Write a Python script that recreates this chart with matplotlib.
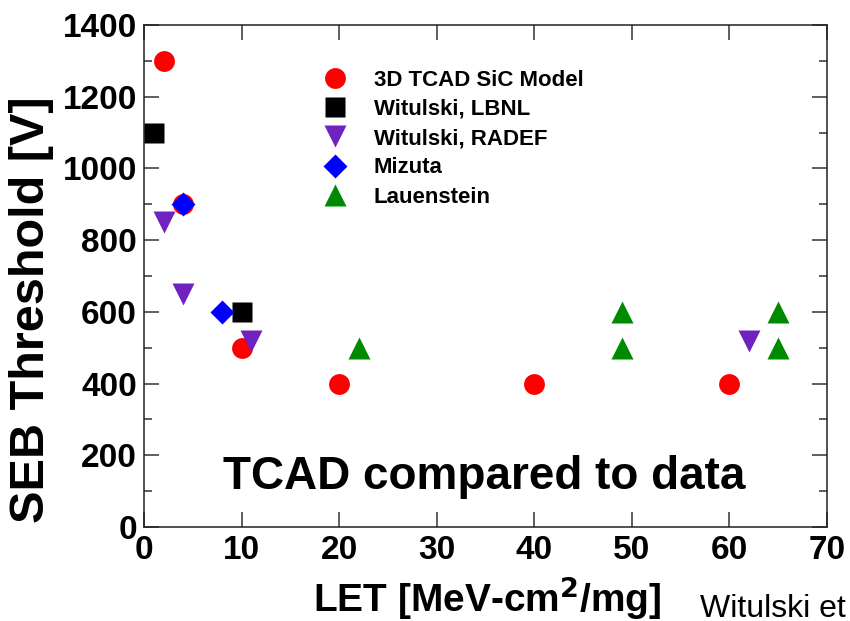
import matplotlib
matplotlib.use('Agg')
import matplotlib.pyplot as plt
from matplotlib.ticker import MultipleLocator

plt.rcParams['font.family'] = ['Liberation Sans', 'DejaVu Sans']

# data
tcad_x = [2, 4, 10, 20, 40, 60]
tcad_y = [1300, 900, 500, 400, 400, 400]
lbnl_x = [1, 10]
lbnl_y = [1100, 600]
radef_x = [2, 4, 11, 62]
radef_y = [850, 650, 520, 520]
mizuta_x = [4, 8]
mizuta_y = [900, 600]
lauen_x = [22, 49, 49, 65, 65]
lauen_y = [500, 600, 500, 600, 500]

fig = plt.figure(figsize=(8.5, 6.21), dpi=100)
ax = fig.add_axes([144 / 850, 1 - 527 / 621, (827 - 144) / 850, (527 - 25) / 621])

ax.plot(tcad_x, tcad_y, 'o', color='#ff0000', ms=15, mec='none', label='3D TCAD SiC Model', clip_on=False, zorder=3)
ax.plot(lbnl_x, lbnl_y, 's', color='black', ms=14, mec='none', label='Witulski, LBNL', clip_on=False, zorder=3)
ax.plot(radef_x, radef_y, 'v', color='#7022bf', ms=16, mec='none', label='Witulski, RADEF', clip_on=False, zorder=3)
ax.plot(mizuta_x, mizuta_y, 'D', color='#0000ff', ms=12.5, mec='none', label='Mizuta', clip_on=False, zorder=3)
ax.plot(lauen_x, lauen_y, '^', color='#008a00', ms=16, mec='none', label='Lauenstein', clip_on=False, zorder=3)

ax.set_xlim(0, 70)
ax.set_ylim(0, 1400)
ax.xaxis.set_major_locator(MultipleLocator(10))
ax.yaxis.set_major_locator(MultipleLocator(200))
ax.yaxis.set_minor_locator(MultipleLocator(100))
ax.tick_params(which='both', direction='in', top=True, right=True, width=1.1, color='#333333')
ax.tick_params(which='major', length=10.8, labelsize=24, pad=5)
ax.tick_params(which='minor', length=5.5)
ax.tick_params(axis='x', which='major', pad=6)
for lab in ax.get_xticklabels() + ax.get_yticklabels():
    lab.set_fontweight('bold')
for sp in ax.spines.values():
    sp.set_linewidth(1.1)
    sp.set_color('#222222')

leg = ax.legend(loc='upper left', bbox_to_anchor=(0.247, 0.933), frameon=False,
                prop={'size': 16, 'weight': 'bold'}, labelspacing=0.37,
                handletextpad=1.25, handlelength=1.0, numpoints=1, borderpad=0)

ax.text(0.498, 0.075, 'TCAD compared to data', transform=ax.transAxes, ha='center',
        va='baseline', fontsize=33, fontweight='bold')

fig.text(32 / 850, 1 - 310 / 621, 'SEB Threshold [V]', rotation=90, ha='center', va='center',
         fontsize=35, fontweight='bold')
fig.text(487 / 850, 1 - 612 / 621, 'LET [MeV-cm$^{\\mathbf{2}}$/mg]', ha='center', va='baseline',
         fontsize=28, fontweight='bold')
# citation is cut by the right edge in the original too
fig.text(700 / 850, 1 - 617 / 621, 'Witulski et al.', ha='left', va='baseline', fontsize=23)

fig.savefig('out.png', dpi=100)
